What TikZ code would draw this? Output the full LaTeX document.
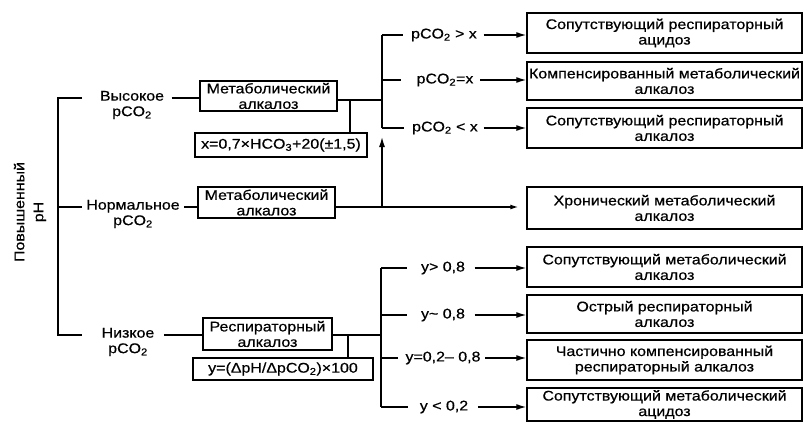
\documentclass[tikz,border=0pt]{standalone}
\usepackage{fontspec}
\setmainfont{Liberation Sans}[FakeStretch=1.14,FakeBold=0.6]
\usetikzlibrary{arrows.meta}
\begin{document}
\begin{tikzpicture}[x=1pt,y=-1pt, line width=1.3pt,
  every node/.style={font=\fontsize{14}{15.5}\selectfont, inner sep=1pt},
  box/.style={draw, line width=1.4pt, align=center, inner sep=2pt},
  rbox/.style={box, minimum width=275pt},
  lab/.style={align=center},
  arr/.style={-{Latex[length=10pt,width=6pt]}}]
\useasboundingbox (0,0) rectangle (805,423);

% left label and bracket
\node[rotate=90, align=center, font=\fontsize{14}{19}\selectfont] (ph) at (30,212) {Повышенный\\pH};
\coordinate (bt) at (58,98);
\coordinate (bm) at (58,207);
\coordinate (bb) at (58,335);
\coordinate (tt) at (82,98);
\coordinate (tm) at (82,207);
\coordinate (tb) at (82,335);
\draw (tt) -- (bt) -- (bb) -- (tb);
\draw (bm) -- (tm);

% level labels
\node[lab] (hi) at (132,105) {Высокое\\pCO\textsubscript{2}};
\node[lab] (no) at (133,214) {Нормальное\\pCO\textsubscript{2}};
\node[lab] (lo) at (128,342) {Низкое\\pCO\textsubscript{2}};

% middle boxes
\node[box, minimum width=137pt, minimum height=28pt] (m1) at (268.5,96) {Метаболический\\алкалоз};
\node[box, minimum width=172pt, minimum height=24pt] (f1) at (281,145) {x=0,7×HCO\textsubscript{3}+20(±1,5)};
\node[box, minimum width=137pt, minimum height=31pt] (m2) at (266.5,202.5) {Метаболический\\алкалоз};
\node[box, minimum width=129pt, minimum height=32pt] (m3) at (267.5,334) {Респираторный\\алкалоз};
\node[box, minimum width=180pt, minimum height=22pt] (f2) at (283,369) {y=(ΔpH/ΔpCO\textsubscript{2})×100};

% connections label -> box
\draw ([xshift=6pt,yshift=7pt]hi.east) -- (m1.west |- 0,98);
\draw ([xshift=3pt,yshift=7pt]no.east) -- (m2.west |- 0,207);
\draw ([xshift=8pt,yshift=7pt]lo.east) -- (m3.west |- 0,335);

% upper branch
\coordinate (j1) at (350,100);
\coordinate (k1) at (382,100);
\coordinate (v1t) at (382,35);
\coordinate (v1m) at (382,80);
\coordinate (v1b) at (382,128);
\draw (m1.east |- j1) -- (k1);
\draw (j1) -- (f1.north -| j1);
\draw (v1t) -- (v1b);

\node (p1) at (444,35) {pCO\textsubscript{2} > x};
\node (p2) at (445,80) {pCO\textsubscript{2}=x};
\node (p3) at (445,128) {pCO\textsubscript{2} < x};
\draw (v1t) -- ([xshift=-7pt]p1.west |- v1t);
\draw (v1m) -- ([xshift=-14pt]p2.west |- v1m);
\draw (v1b) -- ([xshift=-7pt]p3.west |- v1b);

\node[rbox, minimum height=40pt] (r1) at (664.5,33) {Сопутствующий респираторный\\ацидоз};
\node[rbox, minimum height=38pt] (r2) at (664.5,81) {Компенсированный метаболический\\алкалоз};
\node[rbox, minimum height=40pt] (r3) at (664.5,128) {Сопутствующий респираторный\\алкалоз};
\draw[arr] ([xshift=5pt]p1.east |- v1t) -- (r1.west |- v1t);
\draw[arr] ([xshift=5pt]p2.east |- v1m) -- (r2.west |- v1m);
\draw[arr] ([xshift=4pt]p3.east |- v1b) -- (r3.west |- v1b);

% normal branch
\node[rbox, minimum height=42pt] (r4) at (664.5,208) {Хронический метаболический\\алкалоз};
\coordinate (n1) at (382,207);
\coordinate (u1) at (382,137);
\draw[-{Latex[length=8pt,width=5pt]}, shorten >=8pt] (m2.east |- n1) -- (r4.west |- n1);
\draw[arr] (n1) -- (u1);

% lower branch
\coordinate (j3) at (348,335);
\coordinate (k3) at (381,335);
\coordinate (v3a) at (381,268);
\coordinate (v3b) at (381,315);
\coordinate (v3c) at (381,358);
\coordinate (v3d) at (381,407);
\draw (m3.east |- j3) -- (k3);
\draw (j3) -- (f2.north -| j3);
\draw (v3a) -- (v3d);

\node (q1) at (443,268) {y> 0,8};
\node (q2) at (443,315) {y\textasciitilde\ 0,8};
\node (q3) at (443,358) {y=0,2– 0,8};
\node (q4) at (444,407) {y < 0,2};
\draw (v3a) -- ([xshift=-12pt]q1.west |- v3a);
\draw (v3b) -- ([xshift=-12pt]q2.west |- v3b);
\draw (v3c) -- ([xshift=-6pt]q3.west |- v3c);
\draw (v3d) -- ([xshift=-10pt]q4.west |- v3d);

\node[rbox, minimum height=40pt] (r5) at (664.5,267) {Сопутствующий метаболический\\алкалоз};
\node[rbox, minimum height=38pt] (r6) at (664.5,314) {Острый респираторный\\алкалоз};
\node[rbox, minimum height=40pt] (r7) at (664.5,360) {Частично компенсированный\\респираторный алкалоз};
\node[rbox, minimum height=33pt] (r8) at (664.5,404.5) {Сопутствующий метаболический\\ацидоз};
\draw[arr] ([xshift=8pt]q1.east |- v3a) -- (r5.west |- v3a);
\draw[arr] ([xshift=8pt]q2.east |- v3b) -- (r6.west |- v3b);
\draw[arr] ([xshift=3pt]q3.east |- v3c) -- (r7.west |- v3c);
\draw[arr] ([xshift=8pt]q4.east |- v3d) -- (r8.west |- v3d);
\end{tikzpicture}
\end{document}
